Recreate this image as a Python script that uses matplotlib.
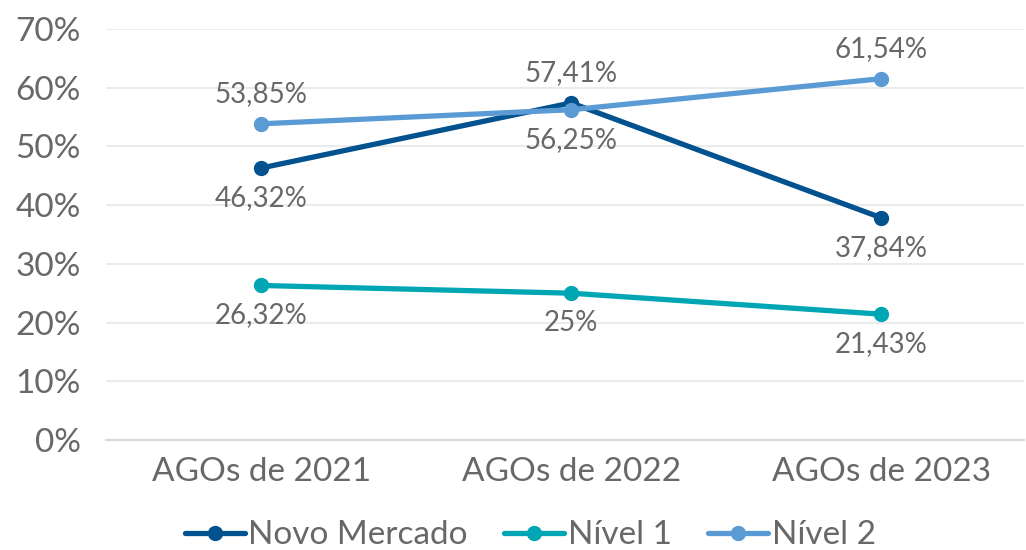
import matplotlib
matplotlib.use("Agg")
import matplotlib.pyplot as plt
from matplotlib.ticker import FuncFormatter

categories = ["AGOs de 2021", "AGOs de 2022", "AGOs de 2023"]
novo_mercado = [46.32, 57.41, 37.84]
nivel_1 = [26.32, 25.0, 21.43]
nivel_2 = [53.85, 56.25, 61.54]
series_names = ["Novo Mercado", "Nível 1", "Nível 2"]
yticks = [0, 10, 20, 30, 40, 50, 60, 70]

# label placement per point: +1 above, -1 below
label_side = {
    "Novo Mercado": [-1, 1, -1],
    "Nível 1": [-1, -1, -1],
    "Nível 2": [1, -1, 1],
}
colors = {"Novo Mercado": "#02528F", "Nível 1": "#00A6B4", "Nível 2": "#5B9BD5"}

plt.rcParams["font.family"] = ["Lato", "DejaVu Sans"]
text_color = "#686868"

fig = plt.figure(figsize=(10.26, 5.5), dpi=100)
ax = fig.add_axes([106 / 1026, 0.2, (1024 - 106) / 1026, (440 - 29) / 550])

x = list(range(len(categories)))
values = {"Novo Mercado": novo_mercado, "Nível 1": nivel_1, "Nível 2": nivel_2}


def fmt_pct(v):
    s = f"{v:.2f}".rstrip("0").rstrip(".")
    return s.replace(".", ",") + "%"


for name in series_names:
    ax.plot(x, values[name], color=colors[name], lw=3.8, marker="o",
            markersize=10, label=name, solid_capstyle="round", zorder=3)
    for xi, v, side in zip(x, values[name], label_side[name]):
        ax.annotate(fmt_pct(v), (xi, v), xytext=(0, 30 * side), textcoords="offset pixels",
                    ha="center", va="center", fontsize=20, color=text_color, zorder=4)

ax.set_xlim(-0.5, 2.46)
ax.set_ylim(0, 70)
ax.set_yticks(yticks)
ax.yaxis.set_major_formatter(FuncFormatter(lambda v, p: f"{v:.0f}%"))
ax.set_xticks(x)
ax.set_xticklabels(categories)
ax.grid(axis="y", color="#EBEBEB", lw=1.5)
ax.set_axisbelow(True)
for s in ["top", "right", "left"]:
    ax.spines[s].set_visible(False)
ax.spines["bottom"].set_color("#D9D9D9")
ax.spines["bottom"].set_linewidth(1.5)
ax.tick_params(axis="both", length=0, labelsize=24, colors=text_color)
ax.tick_params(axis="y", pad=18)
ax.tick_params(axis="x", pad=12)

fig.legend(loc="lower center", bbox_to_anchor=(0.517, -0.055), ncol=3, frameon=False,
           handlelength=1.8, handletextpad=0.1, columnspacing=1.1,
           labelcolor=text_color, prop={"size": 24})

fig.savefig("out.png", dpi=100, facecolor="white")
